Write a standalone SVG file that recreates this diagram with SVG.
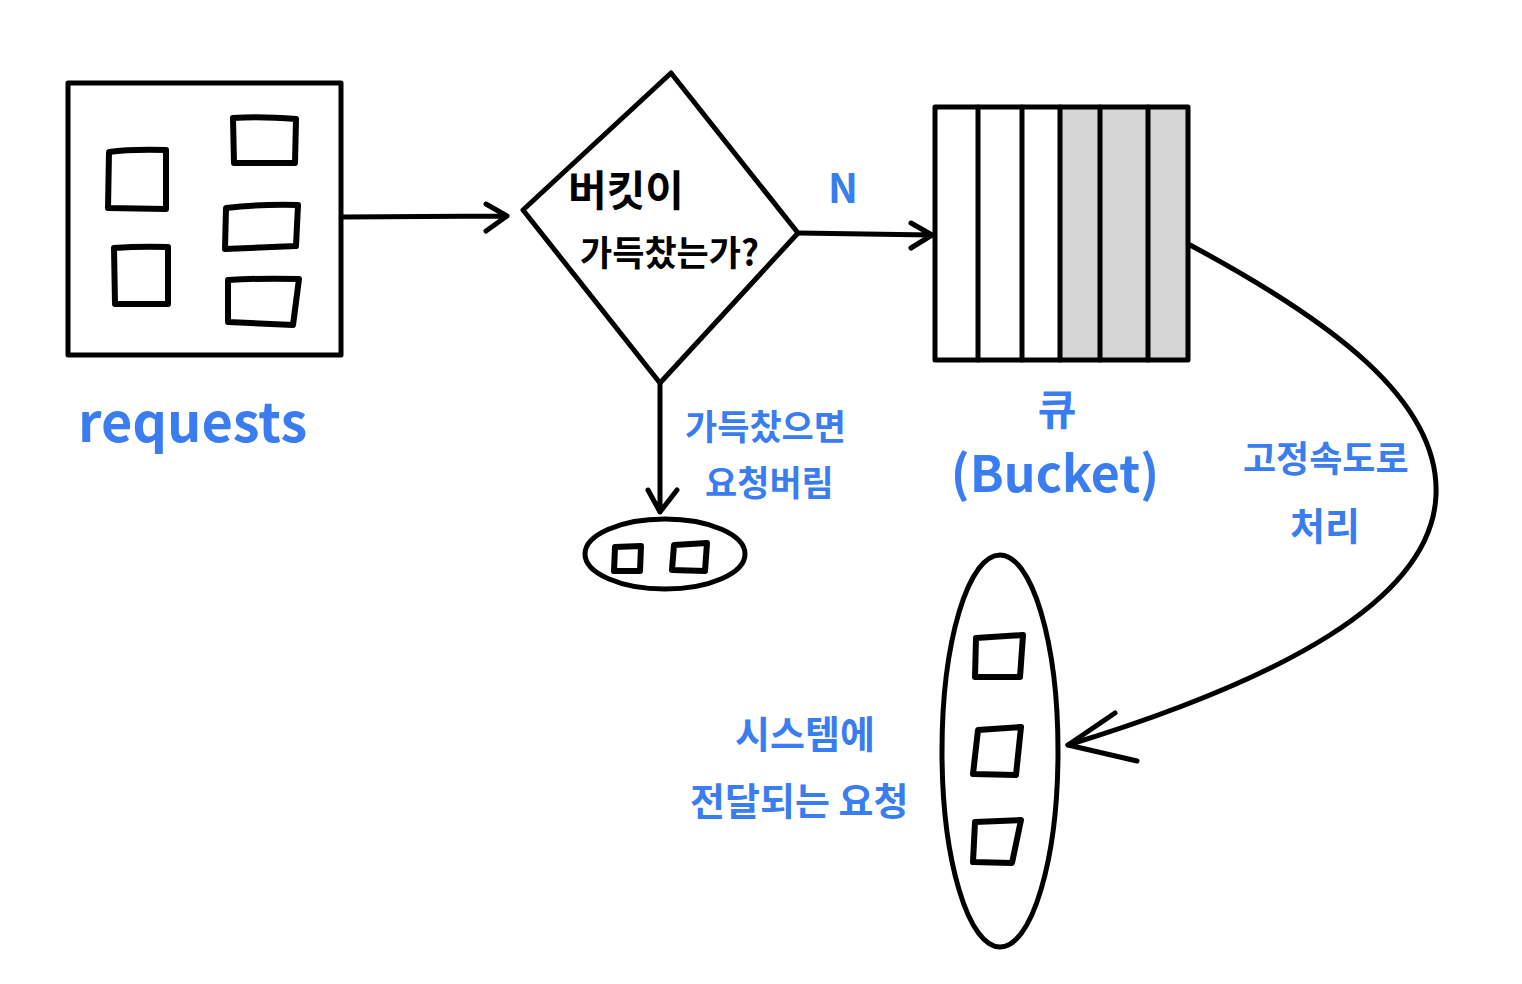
<svg xmlns="http://www.w3.org/2000/svg" width="1522" height="984" viewBox="0 0 1522 984">
<style>
.s{fill:none;stroke:#000;stroke-width:5;stroke-linecap:round;stroke-linejoin:round}
.sq{fill:none;stroke:#000;stroke-width:6;stroke-linecap:round;stroke-linejoin:round}
.bk{font-family:"Noto Sans CJK KR","Noto Sans",sans-serif;fill:#000;font-weight:700}
.bl{font-family:"Noto Sans CJK KR","Noto Sans",sans-serif;fill:#3a7df0;font-weight:700}
</style>
<rect width="1522" height="984" fill="#fff"/>
<g id="requests">
<rect x="68" y="83" width="273" height="272" class="s"/>
<path class="sq" d="M109,152 L108,208 L166,209 L166,150 Q130,149 109,152 Z"/>
<path class="sq" d="M233,118 L234,163 L295,163 L296,119 Q260,116 233,118 Z"/>
<path class="sq" d="M226,208 L225,249 L296,246 L298,205 Q260,204 226,208 Z"/>
<path class="sq" d="M114,248 L115,304 L168,304 L168,247 Q140,246 114,248 Z"/>
<path class="sq" d="M228,280 L228,322 L293,325 L299,279 Q260,278 228,280 Z"/>
<text x="78" y="442" class="bl" font-size="54">requests</text>
</g>
<g id="decision">
<polygon points="671,73 798,233 660,383 523,210" class="s"/>
<text x="568" y="206" class="bk" font-size="42">버킷이</text>
<text x="580" y="266" class="bk" font-size="35">가득찼는가?</text>
</g>
<g id="queue">
<rect x="1060" y="107" width="128" height="253" fill="#d5d5d5"/>
<rect x="935" y="107" width="253" height="253" class="s"/>
<path class="s" d="M978,107V360M1022,107V360M1060,107V360M1100,107V360M1148,107V360"/>
<text x="1057" y="425" class="bl" font-size="42" text-anchor="middle">큐</text>
<text x="1055" y="492" class="bl" font-size="50" text-anchor="middle">(Bucket)</text>
</g>
<g id="dropped">
<ellipse cx="665" cy="554" rx="80" ry="35" class="s"/>
<path class="sq" d="M615,547 L614,571 L640,571 L641,546 Z"/>
<path class="sq" d="M674,545 L672,570 L705,571 L707,543 Z"/>
</g>
<g id="system">
<ellipse cx="1000" cy="751" rx="58" ry="196" class="s"/>
<path class="sq" d="M976,638 L975,677 L1020,677 L1023,635 Z"/>
<path class="sq" d="M978,730 L973,774 L1016,775 L1021,727 Z"/>
<path class="sq" d="M975,822 L973,862 L1012,863 L1021,820 Z"/>
</g>
<g id="connectors">
<path class="s" d="M343,217 L505,216 M486,204 L507,216 L486,231"/>
<path class="s" d="M798,233 L932,235 M911,223 L932,235 L911,248"/>
<path class="s" d="M660,385 L660,512 M648,490 L660,512 L677,490"/>
<path class="s" d="M1190,245 C1330,320 1440,400 1436,495 C1432,600 1280,680 1068,745"/>
<path class="s" d="M1115,713 L1068,745 L1137,761"/>
<text x="828" y="203" class="bl" font-size="40">N</text>
<text x="685" y="440" class="bl" font-size="35">가득찼으면</text>
<text x="705" y="496" class="bl" font-size="35">요청버림</text>
<text x="1243" y="472" class="bl" font-size="36">고정속도로</text>
<text x="1290" y="540" class="bl" font-size="38">처리</text>
<text x="735" y="748" class="bl" font-size="38">시스템에</text>
<text x="690" y="815" class="bl" font-size="38">전달되는 요청</text>
</g>
</svg>
